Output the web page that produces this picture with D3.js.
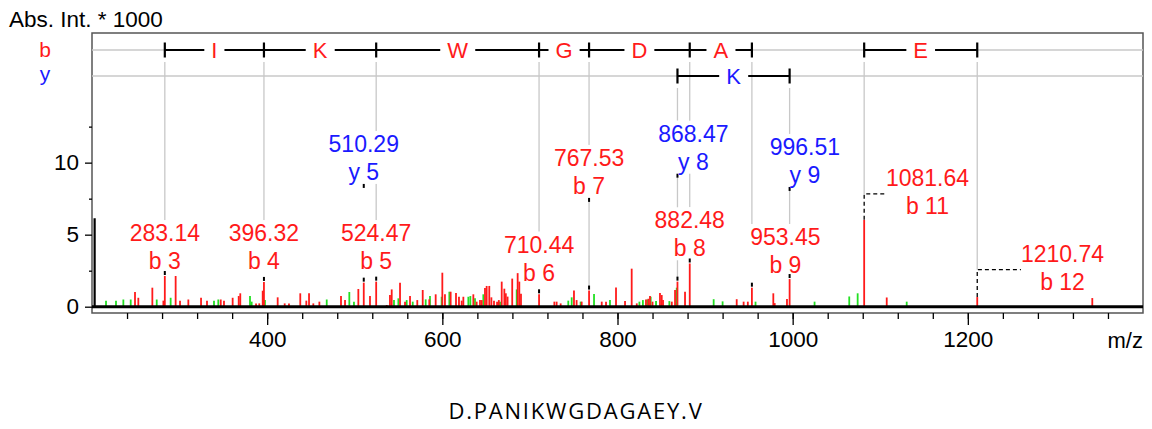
<!DOCTYPE html>
<meta charset="utf-8">
<style>
    body { margin: 0; background: #fff; }
    svg text { font-family: "Liberation Sans", Arial, sans-serif; }
    .lbl { font-size: 23px; }
    .axis text { font-size: 22.5px; fill: #000; font-family: "Liberation Sans", Arial, sans-serif; }
    .axis line { stroke: #000; stroke-width: 1.3px; }
</style>

<body>
<script src="https://d3js.org/d3.v7.min.js"></script>
<script>
    // ---- annotated fragment ions ----
    var ionName   = ["b 3", "b 4", "b 5", "b 6", "b 7", "b 8", "b 9", "b 11", "b 12", "y 5", "y 8", "y 9"];
    var ionSeries = ["b", "b", "b", "b", "b", "b", "b", "b", "b", "y", "y", "y"];
    var ionMz     = [283.14, 396.32, 524.47, 710.44, 767.53, 882.48, 953.45, 1081.64, 1210.74, 510.29, 868.47, 996.51];
    var ionInt    = [2.13, 1.72, 1.74, 0.86, 1.12, 3.0, 1.32, 6.03, 0.67, 1.67, 1.74, 1.92];

    // ---- sequence ladders ----
    var bStepFrom = [283.14, 396.32, 524.47, 710.44, 767.53, 882.48, 1081.64];
    var bStepTo   = [396.32, 524.47, 710.44, 767.53, 882.48, 953.45, 1210.74];
    var bStepAA   = ["I", "K", "W", "G", "D", "A", "E"];
    var yStepFrom = [868.47];
    var yStepTo   = [996.51];
    var yStepAA   = ["K"];

    // ---- other peaks (m/z, intensity *1000) ----
    var redMz  = [249.1, 252.9, 268.9, 281.5, 295.5, 300.5, 310, 324.5, 331.3, 347, 350.7, 360.6, 367.5, 369.3,
                  387.3, 391, 394.9, 412, 420, 424.9, 437.8, 444.7, 447.8, 452.7, 459.6, 484.3, 488.9, 504.1,
                  517.4, 536.5, 540.2, 542.2, 551.7, 557.4, 563.1, 571.4, 577.6, 585.1, 592.4, 600, 603, 609.5,
                  615.6, 619, 622.1, 624, 635.4, 639.2, 643, 645, 648.7, 650.6, 653.6, 656, 659, 662.5, 664.5,
                  667.8, 670.8, 672.5, 674.5, 679.8, 686, 687.9, 689.8, 727.9, 730.5, 735.1, 750.3, 753.3, 759.1,
                  782, 786.9, 798.3, 808.6, 816.2, 822, 832.5, 835.2, 837.1, 840, 848.5, 850.5, 852, 862, 865.7,
                  877.1, 936.1, 944, 948.8, 977.9, 979.5, 993.5, 1107.4, 1342.1];
    var redInt = [1.02, 0.62, 1.32, 0.42, 2.13, 0.42, 0.5, 0.62, 0.42, 0.5, 0.42, 0.62, 0.74, 0.93,
                  0.23, 0.23, 1.11, 0.65, 0.23, 0.23, 0.93, 0.42, 0.93, 0.23, 0.35, 0.74, 0.46, 1.23,
                  0.74, 0.12, 0.81, 1.2, 1.67, 0.35, 0.74, 0.46, 1.16, 0.51, 0.86, 2.36, 0.86, 1.04,
                  0.95, 0.69, 0.42, 0.69, 0.86, 0.35, 0.46, 0.46, 1.3, 1.44, 1.44, 0.65, 0.42, 0.35, 0.46,
                  1.74, 1.25, 0.93, 0.7, 1.95, 2.33, 1.74, 0.9, 0.35, 0.35, 0.23, 1.13, 0.46, 0.35,
                  0.35, 0.35, 1.34, 0.39, 2.64, 0.23, 0.5, 0.55, 0.74, 0.35, 0.95, 0.81, 0.46, 0.35, 1.16,
                  1.04, 0.52, 0.35, 0.35, 0.93, 0.25, 0.53, 0.64, 0.6];
    var greenMz  = [216, 227.4, 235.8, 244.2, 273.9, 289.8, 339.3, 344.2, 380.4, 382.3, 397.5, 468, 493.8, 499.1,
                    544.8, 549.8, 559.3, 566.2, 581, 585.9, 599.2, 608, 629.7, 632, 637.3, 646.8, 665.9, 684.9,
                    743.8, 747.7, 757.9, 773.2, 791.4, 825, 829, 834, 837.9, 844, 859.2, 867.6, 909.8, 920,
                    957.6, 1025, 1064.6, 1074.2, 1130.2];
    var greenInt = [0.42, 0.42, 0.5, 0.5, 0.5, 0.62, 0.42, 0.5, 0.74, 0.35, 0.46, 0.5, 1.02, 0.35,
                    0.46, 0.58, 0.46, 0.35, 0.51, 0.74, 0.69, 1.04, 0.69, 0.74, 0.58, 0.86, 0.35, 1.2,
                    0.42, 0.65, 0.35, 0.88, 0.46, 0.35, 0.46, 0.5, 0.69, 0.39, 0.39, 1.32, 0.52, 0.37,
                    0.35, 0.35, 0.71, 0.93, 0.35];
    // start of the raw trace at the low mass cut-off
    var rawMz = [203];
    var rawInt = [6.14];

    // ---- axes ----
    var xMajorTicks = [400, 600, 800, 1000, 1200];
    var yMajorTicks = [0, 5, 10];
    var yMinorTicks = [2.5, 7.5, 12.5];
    var sequenceText = "D.PANIKWGDAGAEY.V";

    // label placement: [m/z of label centre, intensity of the ion-name baseline]
    var labelAt = {
        "b 3": [283.14, 2.6], "b 4": [396.32, 2.6], "b 5": [524.47, 2.6], "b 6": [710.44, 1.81],
        "b 7": [767.53, 7.83], "b 8": [882.48, 3.5], "b 9": [991.7, 2.34], "b 11": [1153.9, 6.44],
        "b 12": [1308.1, 1.18], "y 5": [510.29, 8.8], "y 8": [886.7, 9.51], "y 9": [1014, 8.59]
    };
    var leader = { "b 11": true, "b 12": true };

    var red = "#ff1a1a", blue = "#1a1aff", green = "#22e022", grid = "#c8c8c8";
    var rowB = 50, rowY = 76;

    var svg = d3.select("body").append("svg")
        .attr("width", 1152)
        .attr("height", 429)
        .style("display", "block");

    var x = d3.scaleLinear().domain([200, 1400]).range([92, 1143]);
    var y = d3.scaleLinear().domain([0, 19]).range([306.7, 33]);

    // layers
    var gGrid = svg.append("g");
    var gDrop = svg.append("g");
    var gLadder = svg.append("g");
    var gBox = svg.append("g");
    var gPeaks = svg.append("g");
    var gMarks = svg.append("g");
    var gText = svg.append("g");

    // frame + row lines
    gGrid.append("rect")
        .attr("x", 92).attr("y", 33).attr("width", 1051).attr("height", 280)
        .attr("fill", "none").attr("stroke", "#555").attr("stroke-width", 1.5);
    [rowB, rowY].forEach(function(r) {
        gGrid.append("line").attr("x1", 92).attr("x2", 1143).attr("y1", r).attr("y2", r)
            .attr("stroke", grid).attr("stroke-width", 1.5);
    });

    // title and row names
    svg.append("text").attr("x", 9).attr("y", 27).style("font-size", "22.5px").text("Abs. Int. * 1000");
    svg.append("text").attr("x", 45).attr("y", 57).attr("text-anchor", "middle")
        .style("font-size", "21px").attr("fill", red).text("b");
    svg.append("text").attr("x", 45).attr("y", 81).attr("text-anchor", "middle")
        .style("font-size", "21px").attr("fill", blue).text("y");

    // ladders
    function drawLadder(from, to, aa, row, col) {
        var ticks = [];
        from.forEach(function(f, i) {
            gLadder.append("line")
                .attr("x1", x(f)).attr("x2", x(to[i])).attr("y1", row).attr("y2", row)
                .attr("stroke", "#000").attr("stroke-width", 2.2);
            var t = gLadder.append("text")
                .attr("x", (x(f) + x(to[i])) / 2).attr("y", row + 7.8)
                .attr("text-anchor", "middle").attr("fill", col)
                .style("font-size", "22px").text(aa[i]);
            var bb = t.node().getBBox();
            gLadder.insert("rect", function() { return t.node(); })
                .attr("x", bb.x - 7).attr("y", row - 3).attr("width", bb.width + 14).attr("height", 6)
                .attr("fill", "#fff");
            if (ticks.indexOf(f) < 0) ticks.push(f);
            if (ticks.indexOf(to[i]) < 0) ticks.push(to[i]);
        });
        ticks.forEach(function(m) {
            gLadder.append("line")
                .attr("x1", x(m)).attr("x2", x(m)).attr("y1", row - 7.5).attr("y2", row + 7.5)
                .attr("stroke", "#000").attr("stroke-width", 2.2);
        });
        return ticks;
    }
    var bTicks = drawLadder(bStepFrom, bStepTo, bStepAA, rowB, red);
    var yTicks = drawLadder(yStepFrom, yStepTo, yStepAA, rowY, blue);

    // peaks
    function sticks(mz, inten, col, w) {
        gPeaks.selectAll(null).data(mz).enter().append("line")
            .attr("x1", function(d) { return x(d); })
            .attr("x2", function(d) { return x(d); })
            .attr("y1", y(0))
            .attr("y2", function(d, i) { return y(inten[i]); })
            .attr("stroke", col).attr("stroke-width", w);
    }
    sticks(greenMz, greenInt, green, 1.8);
    sticks(redMz, redInt, red, 1.8);
    sticks(ionMz, ionInt, red, 1.8);
    sticks(rawMz, rawInt, "#000", 2.2);

    // baseline
    gPeaks.append("line").attr("x1", 92).attr("x2", 1143).attr("y1", y(0)).attr("y2", y(0))
        .attr("stroke", "#000").attr("stroke-width", 3);

    // annotations
    ionName.forEach(function(name, i) {
        var col = ionSeries[i] == "b" ? red : blue;
        var p = labelAt[name];
        var cx = x(p[0]), base = y(p[1]);
        var px = x(ionMz[i]), ptop = y(ionInt[i]);
        var t1 = gText.append("text").attr("class", "lbl")
            .attr("x", cx).attr("y", base - 28).attr("text-anchor", "middle")
            .attr("fill", col).text(ionMz[i].toFixed(2));
        var t2 = gText.append("text").attr("class", "lbl")
            .attr("x", cx).attr("y", base).attr("text-anchor", "middle")
            .attr("fill", col).text(name);
        var b1 = t1.node().getBBox(), b2 = t2.node().getBBox();
        var left = Math.min(b1.x, b2.x), right = Math.max(b1.x + b1.width, b2.x + b2.width);
        var top = b1.y, bottom = b2.y + b2.height - 1;
        gBox.append("rect").attr("x", left - 1).attr("y", top).attr("width", right - left + 2)
            .attr("height", bottom - top).attr("fill", "#fff");

        var ticks = ionSeries[i] == "b" ? bTicks : yTicks;
        var row = ionSeries[i] == "b" ? rowB : rowY;
        var onLadder = ticks.indexOf(ionMz[i]) >= 0;
        var lifted = !leader[name] && (p[1] - ionInt[i] > 2);
        var midY = base - 20;

        if (onLadder) {
            gDrop.append("line").attr("x1", px).attr("x2", px)
                .attr("y1", row + 12).attr("y2", leader[name] ? midY : top)
                .attr("stroke", grid).attr("stroke-width", 1.3);
            if (lifted) {
                gDrop.append("line").attr("x1", px).attr("x2", px)
                    .attr("y1", bottom + 4).attr("y2", ptop - 4)
                    .attr("stroke", grid).attr("stroke-width", 1.3);
            }
        }
        if (leader[name]) {
            gMarks.append("path")
                .attr("d", "M" + px + "," + ptop + "V" + midY + "H" + left)
                .attr("fill", "none").attr("stroke", "#000").attr("stroke-width", 1.3)
                .attr("stroke-dasharray", "4,3");
        } else {
            gMarks.append("rect").attr("x", px - 1).attr("y", ptop - 5).attr("width", 2).attr("height", 4)
                .attr("fill", "#000");
            if (lifted) {
                gMarks.append("rect").attr("x", px - 1).attr("y", bottom).attr("width", 2).attr("height", 4)
                    .attr("fill", "#000");
            }
        }
    });

    // x axis
    var gx = svg.append("g").attr("class", "axis").attr("transform", "translate(0,313)");
    gx.call(d3.axisBottom(x).tickValues(d3.range(240, 1400, 40)).tickSize(6).tickFormat(""));
    gx.select(".domain").remove();
    var gx2 = svg.append("g").attr("class", "axis").attr("transform", "translate(0,313)");
    gx2.call(d3.axisBottom(x).tickValues(xMajorTicks).tickSize(12).tickPadding(6.5).tickFormat(d3.format("d")));
    gx2.select(".domain").remove();

    // y axis
    var gy = svg.append("g").attr("class", "axis").attr("transform", "translate(92,0)");
    gy.call(d3.axisLeft(y).tickValues(yMinorTicks).tickSize(3).tickFormat(""));
    gy.select(".domain").remove();
    var gy2 = svg.append("g").attr("class", "axis").attr("transform", "translate(92,0)");
    gy2.call(d3.axisLeft(y).tickValues(yMajorTicks).tickSize(7).tickPadding(6).tickFormat(d3.format("d")));
    gy2.select(".domain").remove();

    svg.append("text").attr("x", 1143).attr("y", 347.5).attr("text-anchor", "end")
        .style("font-size", "22px").text("m/z");

    svg.append("text").attr("x", 576).attr("y", 419).attr("text-anchor", "middle")
        .style("font-family", "'Open Sans', sans-serif").style("font-size", "22px")
        .style("letter-spacing", "1.8px").attr("fill", "#000").text(sequenceText);
</script>
</body>
